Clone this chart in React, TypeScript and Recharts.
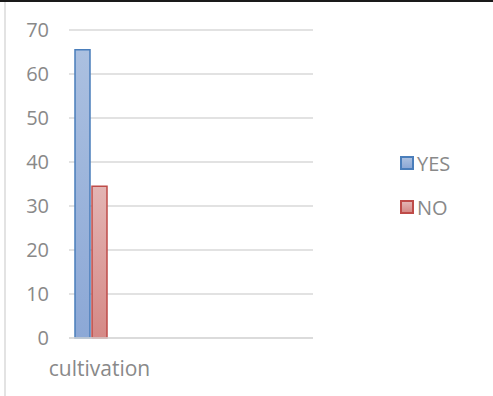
import { Bar, BarChart, CartesianGrid, Legend, XAxis, YAxis } from 'recharts'

const categories = ['cultivation', '', '', '']
const yesValues = [65.5, null, null, null]
const noValues = [34.5, null, null, null]
const blankValues = [null, null, null, null]
const yTicks = [0, 10, 20, 30, 40, 50, 60, 70]
const seriesOrder = ['YES', 'NO']

const data = categories.map((name, i) => ({
  name,
  YES: yesValues[i],
  NO: noValues[i],
  blank: blankValues[i],
}))

const textColor = '#898989'
const font = '"Open Sans", sans-serif'

const swatches: Record<string, { fill: string; stroke: string; css: string }> = {
  YES: { fill: 'url(#yesFill)', stroke: '#4a7ebb', css: 'linear-gradient(#abc0e0, #8ca8d6)' },
  NO: { fill: 'url(#noFill)', stroke: '#be4b48', css: 'linear-gradient(#e3b5b4, #d58986)' },
}

function LegendBox({ payload }: any) {
  const items = (payload || [])
    .filter((p: any) => seriesOrder.includes(p.value))
    .sort((a: any, b: any) => seriesOrder.indexOf(a.value) - seriesOrder.indexOf(b.value))
  return (
    <div style={{ fontFamily: font, fontSize: 20, color: textColor }}>
      {items.map((p: any) => (
        <div key={p.value} style={{ display: 'flex', alignItems: 'center', height: 44 }}>
          <div
            style={{
              width: 10,
              height: 10,
              border: `2px solid ${swatches[p.value].stroke}`,
              background: swatches[p.value].css,
              marginRight: 3,
            }}
          />
          <span>{p.value}</span>
        </div>
      ))}
    </div>
  )
}

export default function App() {
  return (
    <div style={{ position: 'absolute', left: 0, top: 0, width: 493, height: 396, background: '#fff' }}>
      <BarChart
        width={493}
        height={396}
        data={data}
        margin={{ top: 30, right: 180, bottom: 0, left: 0 }}
        barCategoryGap={6}
        barGap={2}
      >
        <defs>
          <linearGradient id="yesFill" x1="0" y1="0" x2="0" y2="1">
            <stop offset="0%" stopColor="#abc0e0" />
            <stop offset="100%" stopColor="#8ca8d6" />
          </linearGradient>
          <linearGradient id="noFill" x1="0" y1="0" x2="0" y2="1">
            <stop offset="0%" stopColor="#e3b5b4" />
            <stop offset="100%" stopColor="#d58986" />
          </linearGradient>
        </defs>
        <CartesianGrid vertical={false} stroke="#d9d9d9" strokeWidth={1.5} />
        <XAxis
          dataKey="name"
          height={58}
          axisLine={{ stroke: '#d9d9d9', strokeWidth: 1.5 }}
          tickLine={false}
          tickMargin={17}
          tick={{ fill: textColor, fontSize: 21, fontFamily: font }}
          interval={0}
        />
        <YAxis
          width={69}
          domain={[0, 70]}
          ticks={yTicks}
          axisLine={false}
          tickLine={false}
          tickMargin={14}
          tick={{ fill: textColor, fontSize: 20, fontFamily: font }}
        />
        <Legend
          layout="vertical"
          align="center"
          verticalAlign="middle"
          content={<LegendBox />}
          wrapperStyle={{ left: 400, top: 141, width: 90 }}
        />
        <Bar dataKey="YES" fill={swatches.YES.fill} stroke={swatches.YES.stroke} strokeWidth={1.5} isAnimationActive={false} />
        <Bar dataKey="NO" fill={swatches.NO.fill} stroke={swatches.NO.stroke} strokeWidth={1.5} isAnimationActive={false} />
        <Bar dataKey="blank" fill="none" legendType="none" isAnimationActive={false} />
      </BarChart>
      <div style={{ position: 'absolute', left: 0, top: 0, width: 493, height: 2, background: '#1a1a1a' }} />
      <div style={{ position: 'absolute', left: 4, top: 2, width: 2, height: 394, background: '#e3e3e3' }} />
    </div>
  )
}
